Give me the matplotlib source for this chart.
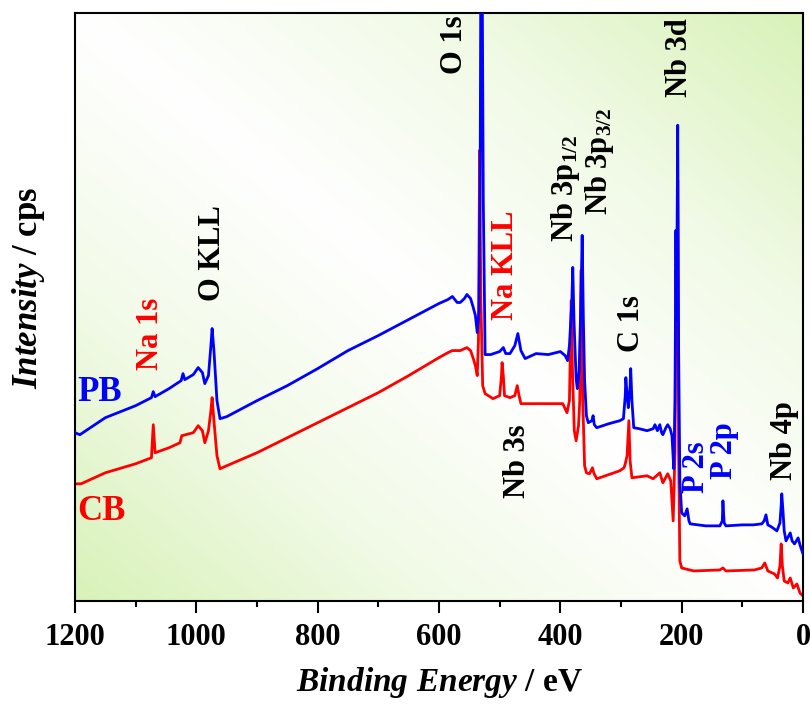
import numpy as np
import matplotlib
matplotlib.use("Agg")
import matplotlib.pyplot as plt
from matplotlib.ticker import MultipleLocator
from matplotlib.colors import LinearSegmentedColormap

# XPS survey, (binding energy eV, intensity a.u.)
pb_points = [
    (1200, 168), (1192, 166), (1150, 183), (1100, 195), (1074, 203), (1071, 209),
    (1068, 204), (1045, 212), (1025, 220), (1022, 227), (1019, 221), (1005, 226),
    (997, 233), (990, 228), (986, 217), (980, 225), (976, 255), (974, 272),
    (971, 250), (966, 200), (961, 182), (950, 184), (900, 200), (850, 215),
    (800, 232), (750, 250), (700, 265), (650, 281), (600, 297), (585, 301),
    (578, 304), (570, 298), (565, 298), (558, 302), (554, 306), (548, 302),
    (544, 294), (540, 285), (537, 268), (534, 290), (532, 450), (531, 650),
    (529, 650), (527, 400), (524, 246), (515, 246), (500, 249), (494, 253),
    (490, 247), (483, 247), (475, 255), (470, 267), (465, 250), (458, 242),
    (440, 247), (420, 246), (400, 249), (392, 245), (388, 240), (385, 255),
    (381, 300), (379.5, 333), (377.5, 280), (374, 222), (372, 212), (369, 230),
    (366, 300), (364, 365), (362, 280), (360, 220), (357, 185), (354, 178),
    (348, 180), (346, 185), (344, 176), (340, 173), (320, 177), (302, 180),
    (296, 182), (293, 205), (292, 223), (290, 205), (288, 193), (285, 215),
    (284, 232), (282, 200), (279, 173), (270, 172), (257, 170), (247, 172),
    (244, 176), (240, 170), (236, 176), (233, 168), (231, 166), (226, 173),
    (223, 176), (219, 172), (216, 165), (213, 132), (211, 200), (209.5, 370),
    (208.5, 280), (206.5, 475), (205, 250), (203, 120), (200, 88), (195, 85),
    (191, 92), (188, 80), (186, 77), (160, 75), (137, 75), (133, 80), (132, 100),
    (130, 78), (127, 75), (100, 76), (82, 76), (68, 77), (64, 80), (61, 86),
    (58, 76), (52, 74), (43, 70), (38, 78), (36, 95), (35, 107), (33, 90),
    (31, 70), (28, 60), (21, 68), (18, 60), (14, 57), (8, 63), (5, 56), (0, 47),
]

cb_points = [
    (1200, 117), (1190, 117), (1150, 128), (1100, 137), (1074, 143), (1071, 176),
    (1068, 148), (1045, 153), (1027, 158), (1024, 165), (1005, 168), (997, 175),
    (990, 170), (986, 158), (980, 170), (976, 190), (974, 203), (971, 180),
    (966, 145), (961, 132), (950, 135), (900, 148), (850, 163), (800, 178),
    (750, 193), (700, 208), (650, 225), (600, 243), (585, 248), (578, 250),
    (565, 250), (554, 253), (548, 250), (544, 243), (540, 235), (537, 225),
    (535, 260), (533, 450), (531, 300), (528, 215), (524, 207), (511, 202),
    (500, 205), (497, 225), (496, 238), (494, 225), (492, 205), (483, 203),
    (475, 205), (471, 215), (468, 205), (465, 197), (434, 197), (396, 197),
    (389, 188), (385, 200), (382, 300), (380, 230), (377, 170), (374, 160),
    (370, 175), (368, 200), (366, 330), (363, 200), (360, 135), (357, 128),
    (352, 127), (347, 133), (345, 128), (340, 122), (302, 130), (295, 133),
    (293, 137), (290, 145), (287, 180), (285, 140), (282, 123), (257, 125),
    (247, 122), (236, 128), (231, 118), (223, 127), (218, 120), (214, 80),
    (211, 150), (209.5, 330), (208, 250), (206.5, 420), (205, 150), (203, 40),
    (200, 33), (180, 30), (137, 31), (132, 33), (127, 30), (80, 31), (68, 33),
    (63, 38), (58, 30), (47, 27), (42, 23), (38, 35), (36, 57), (34, 35),
    (31, 20), (25, 18), (21, 23), (16, 13), (10, 17), (5, 8), (0, 5),
]

# peak labels: text, x (eV), y, colour
peak_labels = [
    ("O 1s", 574, 555, "black"),
    ("Nb 3d", 203, 542, "black"),
    ("Na 1s", 1076, 267, "red"),
    ("O KLL", 973, 347, "black"),
    ("Na KLL", 491, 335, "red"),
    (r"Nb 3p$_{1/2}$", 392, 412, "black"),
    (r"Nb 3p$_{3/2}$", 335, 439, "black"),
    ("C 1s", 282, 277, "black"),
    ("Nb 3s", 470, 140, "black"),
    ("P 2s", 176, 134, "blue"),
    ("P 2p", 130, 150, "blue"),
    ("Nb 4p", 31, 160, "black"),
]

plt.rcParams['font.family'] = ['Liberation Serif', 'DejaVu Serif']
plt.rcParams['font.weight'] = 'bold'
plt.rcParams['axes.labelweight'] = 'bold'
plt.rcParams['mathtext.fontset'] = 'custom'
plt.rcParams['mathtext.rm'] = 'Liberation Serif:bold'
plt.rcParams['mathtext.it'] = 'Liberation Serif:italic:bold'
plt.rcParams['mathtext.bf'] = 'Liberation Serif:bold'

fig = plt.figure(figsize=(8.1, 7.06), dpi=100)
ax = fig.add_axes([75 / 810, 1 - 601 / 706, 728 / 810, 588 / 706])

# green / white diagonal gradient behind the plot
u, v = np.meshgrid(np.linspace(0, 1, 400), np.linspace(0, 1, 400))
t = np.abs(u + v - 1)
bg = LinearSegmentedColormap.from_list("bg", ["#ffffff", "#f1fae6", "#d8f2b8"])
ax.imshow(t, cmap=bg, extent=[0, 1, 0, 1], transform=ax.transAxes,
          origin="lower", aspect="auto", zorder=0, interpolation="bilinear")

be_cb, y_cb = zip(*cb_points)
be_pb, y_pb = zip(*pb_points)
ax.plot(be_cb, y_cb, color="#ff0000", lw=2.0, zorder=2)
ax.plot(be_pb, y_pb, color="#0000ff", lw=2.0, zorder=3)

for txt, x, y, c in peak_labels:
    ax.text(x, y, txt, color=c, rotation=90, ha="center", va="center",
            fontsize=22, fontweight="bold", zorder=4)

ax.text(1160, 208, "PB", color="#0000ff", fontsize=25, fontweight="bold",
        ha="center", va="center")
ax.text(1157, 89, "CB", color="#ff0000", fontsize=25, fontweight="bold",
        ha="center", va="center")

ax.set_xlim(1200, 0)
ax.set_ylim(0, 587)
ax.set_yticks([])
ax.xaxis.set_major_locator(MultipleLocator(200))
ax.xaxis.set_minor_locator(MultipleLocator(100))
ax.tick_params(axis="x", which="major", direction="out", length=8.5, width=1.5,
               labelsize=22, pad=7)
ax.tick_params(axis="x", which="minor", direction="out", length=4.5, width=1.5)
for s in ax.spines.values():
    s.set_linewidth(1.5)

ax.set_xlabel(r"$\mathit{Binding\ Energy}$ / eV", fontsize=24, labelpad=10)
ax.set_ylabel(r"$\mathit{Intensity}$ / cps", fontsize=25, va="center")
ax.yaxis.set_label_coords(-0.064, 0.533)

fig.savefig("out.png", dpi=100)
